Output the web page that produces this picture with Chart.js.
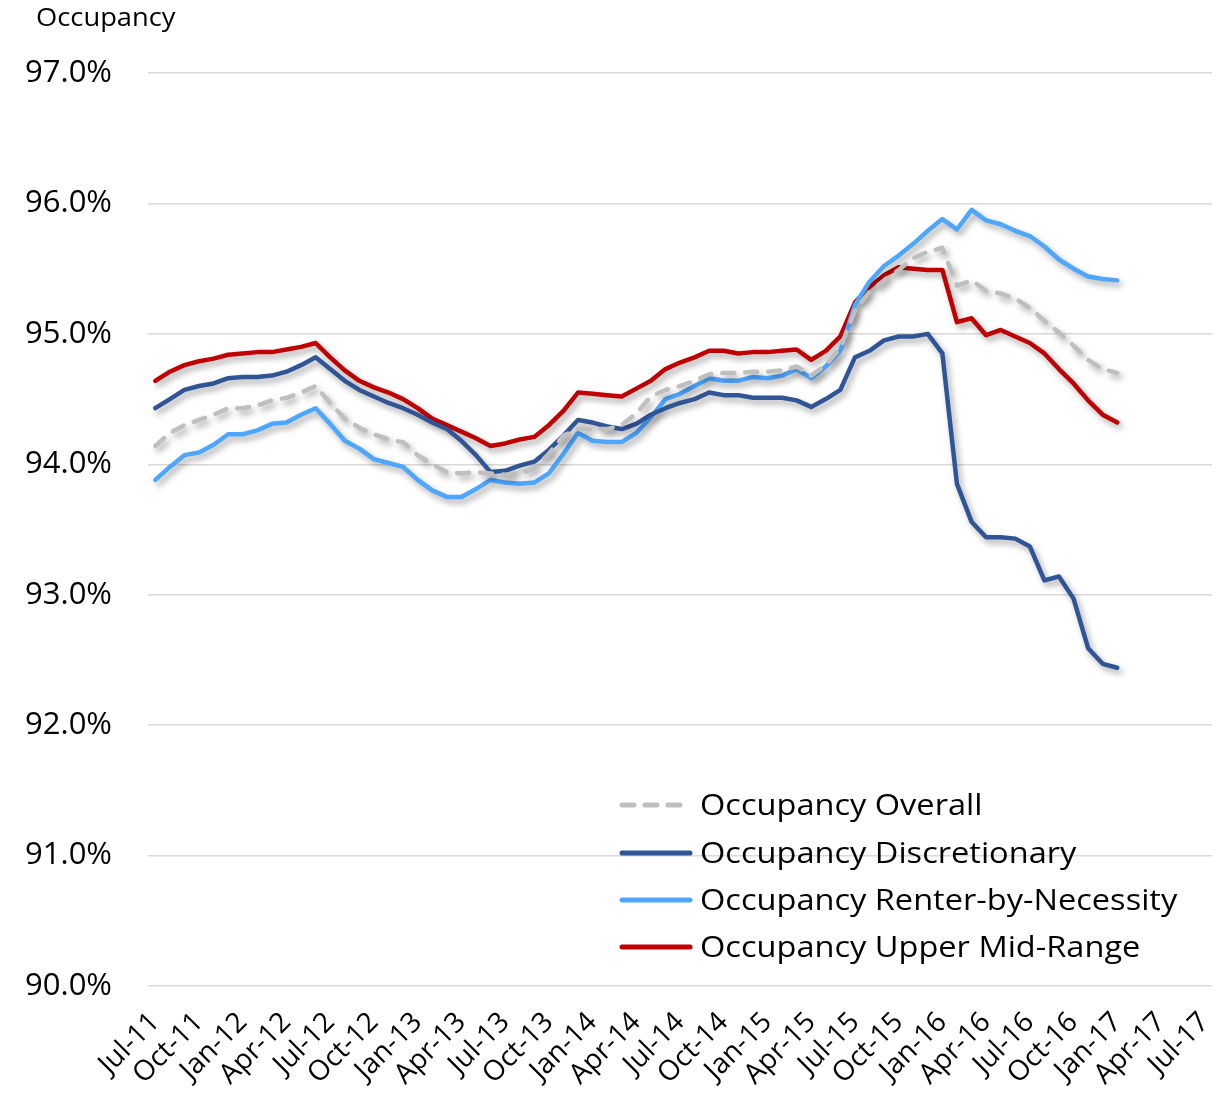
<!DOCTYPE html>
<html>
<head>
<meta charset="utf-8">
<script src="https://cdn.jsdelivr.net/npm/chart.js@4.4.1/dist/chart.umd.min.js"></script>
<style>
  html, body { margin: 0; padding: 0; background: #fff; }
  #wrap { width: 1229px; height: 1116px; position: relative; }
</style>
</head>
<body>
<div id="wrap"><canvas id="c" width="1229" height="1116"></canvas></div>
<script>
const months = [
  'Jul-11','Aug-11','Sep-11','Oct-11','Nov-11','Dec-11',
  'Jan-12','Feb-12','Mar-12','Apr-12','May-12','Jun-12','Jul-12','Aug-12','Sep-12','Oct-12','Nov-12','Dec-12',
  'Jan-13','Feb-13','Mar-13','Apr-13','May-13','Jun-13','Jul-13','Aug-13','Sep-13','Oct-13','Nov-13','Dec-13',
  'Jan-14','Feb-14','Mar-14','Apr-14','May-14','Jun-14','Jul-14','Aug-14','Sep-14','Oct-14','Nov-14','Dec-14',
  'Jan-15','Feb-15','Mar-15','Apr-15','May-15','Jun-15','Jul-15','Aug-15','Sep-15','Oct-15','Nov-15','Dec-15',
  'Jan-16','Feb-16','Mar-16','Apr-16','May-16','Jun-16','Jul-16','Aug-16','Sep-16','Oct-16','Nov-16','Dec-16',
  'Jan-17','Feb-17','Mar-17','Apr-17','May-17','Jun-17','Jul-17'
];

const seriesNames = [
  'Occupancy Overall',
  'Occupancy Discretionary',
  'Occupancy Renter-by-Necessity',
  'Occupancy Upper Mid-Range'
];

const overall = [
  94.14, 94.24, 94.30, 94.34, 94.38, 94.43, 94.43, 94.45, 94.49, 94.51, 94.55, 94.60,
  94.47, 94.35, 94.28, 94.23, 94.19, 94.17, 94.07, 94.00, 93.94, 93.93, 93.94, 93.93,
  93.92, 93.93, 93.97, 94.08, 94.22, 94.27, 94.27, 94.27, 94.30, 94.39, 94.52, 94.57,
  94.60, 94.64, 94.69, 94.70, 94.70, 94.71, 94.71, 94.72, 94.75, 94.68, 94.76, 94.89,
  95.18, 95.32, 95.41, 95.49, 95.58, 95.63, 95.66, 95.37, 95.41, 95.33, 95.31, 95.27,
  95.20, 95.10, 95.01, 94.91, 94.80, 94.73, 94.70
];

const discretionary = [
  94.43, 94.50, 94.57, 94.60, 94.62, 94.66, 94.67, 94.67, 94.68, 94.71, 94.76, 94.82,
  94.73, 94.64, 94.57, 94.52, 94.47, 94.43, 94.38, 94.32, 94.27, 94.18, 94.07, 93.94,
  93.95, 93.99, 94.02, 94.11, 94.22, 94.34, 94.32, 94.29, 94.27, 94.31, 94.38, 94.43,
  94.47, 94.50, 94.55, 94.53, 94.53, 94.51, 94.51, 94.51, 94.49, 94.44, 94.50, 94.57,
  94.82, 94.87, 94.95, 94.98, 94.98, 95.00, 94.85, 93.85, 93.56, 93.44, 93.44, 93.43,
  93.37, 93.11, 93.14, 92.97, 92.59, 92.47, 92.44
];

const renterByNecessity = [
  93.88, 93.98, 94.07, 94.09, 94.15, 94.23, 94.23, 94.26, 94.31, 94.32, 94.38, 94.43,
  94.31, 94.18, 94.12, 94.04, 94.01, 93.98, 93.88, 93.80, 93.75, 93.75, 93.81, 93.88,
  93.86, 93.85, 93.86, 93.93, 94.08, 94.24, 94.18, 94.17, 94.17, 94.24, 94.36, 94.50,
  94.54, 94.60, 94.66, 94.64, 94.64, 94.67, 94.66, 94.68, 94.73, 94.66, 94.75, 94.87,
  95.22, 95.40, 95.52, 95.60, 95.69, 95.79, 95.88, 95.80, 95.95, 95.87, 95.84, 95.79,
  95.75, 95.67, 95.57, 95.50, 95.44, 95.42, 95.41
];

const upperMidRange = [
  94.64, 94.71, 94.76, 94.79, 94.81, 94.84, 94.85, 94.86, 94.86, 94.88, 94.90, 94.93,
  94.82, 94.72, 94.64, 94.59, 94.55, 94.50, 94.43, 94.35, 94.30, 94.25, 94.20, 94.14,
  94.16, 94.19, 94.21, 94.30, 94.41, 94.55, 94.54, 94.53, 94.52, 94.58, 94.64, 94.73,
  94.78, 94.82, 94.87, 94.87, 94.85, 94.86, 94.86, 94.87, 94.88, 94.80, 94.87, 94.98,
  95.24, 95.36, 95.45, 95.51, 95.50, 95.49, 95.49, 95.09, 95.12, 94.99, 95.03, 94.98,
  94.93, 94.85, 94.73, 94.62, 94.49, 94.38, 94.32
];

const yTicks = [90, 91, 92, 93, 94, 95, 96, 97];

const FONT = '"Open Sans", Lato, "Liberation Sans", sans-serif';

const shadowPlugin = {
  id: 'lineShadow',
  beforeDatasetDraw(chart, args) {
    const ctx = chart.ctx;
    ctx.save();
    ctx.shadowColor = 'rgba(0,0,0,0.35)';
    ctx.shadowBlur = 6;
    ctx.shadowOffsetX = 3;
    ctx.shadowOffsetY = 4;
  },
  afterDatasetDraw(chart, args) {
    chart.ctx.restore();
  }
};

function stretchedText(ctx, text, x, y, sx) {
  ctx.save();
  ctx.translate(x, y);
  ctx.scale(sx, 1);
  ctx.fillText(text, 0, 0);
  ctx.restore();
}

const customLegend = {
  id: 'customLegend',
  afterDraw(chart) {
    const ctx = chart.ctx;
    const x0 = 622, x1 = 690, tx = 700;
    const rows = [805, 853, 900, 947];
    ctx.save();
    chart.data.datasets.forEach((ds, i) => {
      const y = rows[i];
      ctx.beginPath();
      ctx.strokeStyle = ds.borderColor;
      ctx.lineWidth = 5;
      ctx.lineCap = 'round';
      ctx.setLineDash(ds.borderDash && ds.borderDash.length ? [12, 11] : []);
      ctx.moveTo(x0, y);
      ctx.lineTo(x1, y);
      ctx.stroke();
      ctx.setLineDash([]);
      ctx.fillStyle = '#000';
      ctx.font = '30px ' + FONT;
      ctx.textBaseline = 'middle';
      ctx.textAlign = 'left';
      stretchedText(ctx, ds.label, tx, y + 1, 1.085);
    });
    ctx.font = '26px ' + FONT;
    ctx.fillStyle = '#000';
    ctx.textBaseline = 'middle';
    ctx.textAlign = 'left';
    stretchedText(ctx, 'Occupancy', 36, 19, 1.05);
    ctx.restore();
  }
};

const commonLine = {
  fill: false,
  pointRadius: 0,
  pointHoverRadius: 0,
  borderWidth: 4.5,
  tension: 0,
  borderJoinStyle: 'round',
  borderCapStyle: 'round'
};

new Chart(document.getElementById('c'), {
  type: 'line',
  data: {
    labels: months,
    datasets: [
      Object.assign({}, commonLine, { label: seriesNames[0], data: overall, borderColor: '#BFBFBF', borderDash: [12, 11] }),
      Object.assign({}, commonLine, { label: seriesNames[1], data: discretionary, borderColor: '#2F5597' }),
      Object.assign({}, commonLine, { label: seriesNames[2], data: renterByNecessity, borderColor: '#4DA6FF' }),
      Object.assign({}, commonLine, { label: seriesNames[3], data: upperMidRange, borderColor: '#C00000' })
    ]
  },
  options: {
    responsive: false,
    animation: false,
    devicePixelRatio: 1,
    layout: { padding: { top: 73, right: 17, bottom: 0, left: 0 } },
    plugins: {
      legend: { display: false },
      title: { display: false },
      tooltip: { enabled: false }
    },
    scales: {
      x: {
        type: 'category',
        offset: true,
        grid: { display: false, drawTicks: false },
        border: { display: false },
        ticks: {
          autoSkip: false,
          maxRotation: 45,
          minRotation: 45,
          padding: 20,
          color: '#000',
          font: { family: FONT, size: 28 },
          callback: function(val, idx) { return idx % 3 === 0 ? months[idx] : ''; }
        },
        afterFit(scale) {
          scale.height = 130;
          scale.paddingRight = 0;
          scale.paddingLeft = 0;
        }
      },
      y: {
        min: 90,
        max: 97,
        afterBuildTicks(scale) { scale.ticks = yTicks.map(v => ({ value: v })); },
        grid: { color: '#D9D9D9', lineWidth: 1.5, drawTicks: false },
        border: { display: false },
        ticks: {
          padding: 36,
          color: '#000',
          font: { family: FONT, size: 31 },
          callback: v => v.toFixed(1) + '%'
        },
        afterFit(scale) { scale.width = 148; }
      }
    }
  },
  plugins: [shadowPlugin, customLegend]
});
</script>
</body>
</html>
